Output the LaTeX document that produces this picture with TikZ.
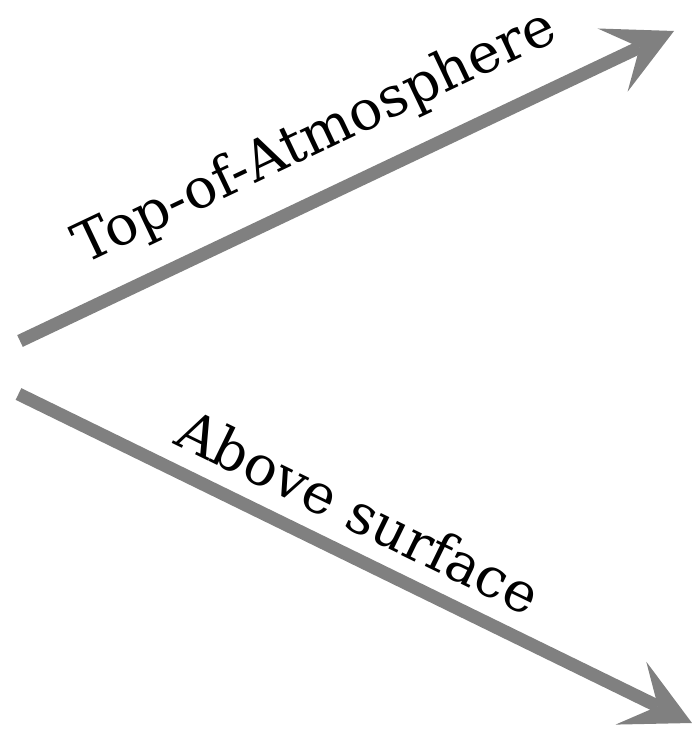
\documentclass[tikz,border=0pt]{standalone}
\usepackage{fontspec}
\setmainfont{DejaVu Serif}
\usetikzlibrary{arrows.meta}
\definecolor{arrowgray}{RGB}{128,128,128}
\tikzset{
  bigarrow/.style={draw=arrowgray, line width=13pt,
    -{Stealth[length=68pt,width=70pt,inset=30pt,line width=0pt]}},
  lbl/.style={anchor=base, inner sep=0pt, font=\fontsize{55}{60}\selectfont}
}
\begin{document}
\begin{tikzpicture}[x=1pt,y=1pt]
\useasboundingbox (0,0) rectangle (692,735);
\coordinate (us) at (20,394);
\coordinate (ue) at (674,704);
\coordinate (ls) at (18.5,341);
\coordinate (le) at (692,12);
\draw[bigarrow] (us) -- (ue);
\draw[bigarrow] (ls) -- (le);
\node[lbl, rotate=25.4] (toa) at (322,583) {Top-of-Atmosphere};
\node[lbl, rotate=-26] (abs) at (350,205) {Above surface};
\end{tikzpicture}
\end{document}
